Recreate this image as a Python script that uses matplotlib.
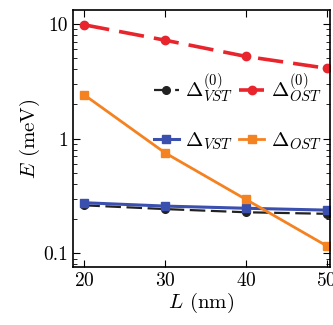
import matplotlib
matplotlib.use("Agg")
import matplotlib.pyplot as plt
from matplotlib.ticker import LogLocator, NullFormatter, FixedLocator, FixedFormatter

plt.rcParams['font.family'] = 'serif'
plt.rcParams['font.serif'] = ['cmr10', 'DejaVu Serif']
plt.rcParams['mathtext.fontset'] = 'cm'
plt.rcParams['axes.formatter.use_mathtext'] = True

L = [20, 30, 40, 50]
vst0 = [0.262, 0.243, 0.228, 0.221]
ost0 = [9.8, 7.2, 5.2, 4.1]
vst = [0.276, 0.258, 0.247, 0.238]
ost = [2.4, 0.75, 0.295, 0.116]

fig = plt.figure(figsize=(3.33, 3.25), dpi=100)
ax = fig.add_axes([73/333, 1-267/325, (330-73)/333, (267-10)/325])

l1, = ax.plot(L, vst0, color='#222222', marker='o', ms=5.5, lw=1.6, dashes=(7, 2.5), label=r'$\Delta^{(0)}_{VST}$')
l2, = ax.plot(L, ost0, color='#e8252c', marker='o', ms=6, lw=2.6, dashes=(7, 2.8), label=r'$\Delta^{(0)}_{OST}$')
l3, = ax.plot(L, vst, color='#3a4fae', marker='s', ms=6, lw=2.2, label=r'$\Delta_{VST}$')
l4, = ax.plot(L, ost, color='#f58220', marker='s', ms=6, lw=2.0, label=r'$\Delta_{OST}$')

ax.set_yscale('log')
ax.set_xlim(18.6, 50.4)
ax.set_ylim(0.076, 13.2)
ax.set_xticks([20, 30, 40, 50])
ax.yaxis.set_major_locator(FixedLocator([0.1, 1, 10]))
ax.yaxis.set_major_formatter(FixedFormatter(['0.1', '1', '10']))
ax.yaxis.set_minor_locator(LogLocator(base=10, subs=range(2, 10)))
ax.yaxis.set_minor_formatter(NullFormatter())
ax.tick_params(which='both', direction='in', top=True, right=True, labelsize=14)
ax.tick_params(which='major', length=5)
ax.tick_params(which='minor', length=3)
for s in ax.spines.values():
    s.set_linewidth(1.2)

ax.set_xlabel(r'$L$ (nm)', fontsize=15, labelpad=1)
ax.set_ylabel(r'$E$ (meV)', fontsize=15, labelpad=1)

leg1 = ax.legend(handles=[l1, l2], ncol=2, frameon=False, fontsize=15,
                 loc='center', bbox_to_anchor=(0.64, 0.695), handlelength=1.2,
                 handletextpad=0.3, columnspacing=0.3, borderpad=0)
ax.add_artist(leg1)
ax.legend(handles=[l3, l4], ncol=2, frameon=False, fontsize=15,
          loc='center', bbox_to_anchor=(0.64, 0.49), handlelength=1.2,
          handletextpad=0.3, columnspacing=0.3, borderpad=0)

fig.savefig('out.png', dpi=100)
